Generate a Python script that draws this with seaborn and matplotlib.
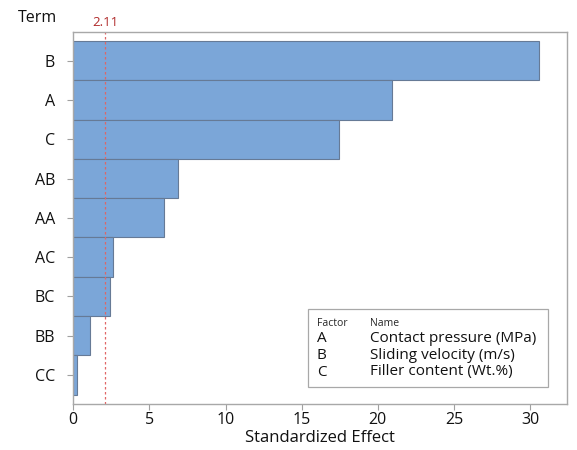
import matplotlib
matplotlib.use("Agg")
import matplotlib.pyplot as plt
import seaborn as sns
import pandas as pd

# Terms and standardized effects (Pareto chart)
terms = ["B", "A", "C", "AB", "AA", "AC", "BC", "BB", "CC"]
effects = [30.55, 20.95, 17.43, 6.89, 5.94, 2.59, 2.39, 1.10, 0.22]
ref_value = 2.11
ref_label = "2.11"

factors = ["A", "B", "C"]
factor_names = ["Contact pressure (MPa)", "Sliding velocity (m/s)", "Filler content (Wt.%)"]

df = pd.DataFrame({"term": terms, "effect": effects})

sns.set_style("white")
plt.rcParams["font.family"] = ["Open Sans", "DejaVu Sans"]

fig = plt.figure(figsize=(5.77, 4.5), dpi=100)
ax = fig.add_axes([73.3 / 577, 1 - 404 / 450, (566.7 - 73.3) / 577, (404 - 31.7) / 450])

sns.barplot(data=df, x="effect", y="term", orient="h", color="#7ba6d8",
            saturation=1, width=1.0, edgecolor="#667a96", linewidth=0.8, ax=ax)

ax.axvline(ref_value, color="#e06666", linestyle=(0, (2, 2)), linewidth=0.9)
ax.text(ref_value, 1.008, ref_label, transform=ax.get_xaxis_transform(),
        ha="center", va="bottom", color="#b02a2a", fontsize=9.5)

ax.set_xlim(0, 32.4)
ax.set_ylim(8.74, -0.74)
ax.set_xticks([0, 5, 10, 15, 20, 25, 30])

for s in ax.spines.values():
    s.set_color("#a8a8a8")
    s.set_linewidth(1.0)
ax.tick_params(axis="both", which="both", length=4, color="#a0a0a0",
               labelsize=11.5, labelcolor="#111111", bottom=True, left=True)
ax.tick_params(axis="x", pad=2)
ax.tick_params(axis="y", pad=9)
ax.set_xlabel("Standardized Effect", fontsize=12, color="#111111", labelpad=1)
ax.set_ylabel("")
fig.text(18 / 577, 1 - 18 / 450, "Term", fontsize=11.5, color="#111111",
         ha="left", va="center")

# legend box with factor names
box = plt.Rectangle((308 / 577, 1 - 387 / 450), (548 - 308) / 577, (387 - 309) / 450,
                    transform=fig.transFigure, facecolor="white",
                    edgecolor="#a8a8a8", linewidth=0.9, zorder=5)
fig.patches.append(box)
fig.text(317 / 577, 1 - 323 / 450, "Factor", fontsize=7.5, ha="left", va="center", zorder=6)
fig.text(370 / 577, 1 - 323 / 450, "Name", fontsize=7.5, ha="left", va="center", zorder=6)
for i, (f, n) in enumerate(zip(factors, factor_names)):
    y = 1 - (339 + i * 16.5) / 450
    fig.text(317 / 577, y, f, fontsize=11, ha="left", va="center", zorder=6, color="#111111")
    fig.text(370 / 577, y, n, fontsize=11, ha="left", va="center", zorder=6, color="#111111")

fig.savefig("out.png", dpi=100)
